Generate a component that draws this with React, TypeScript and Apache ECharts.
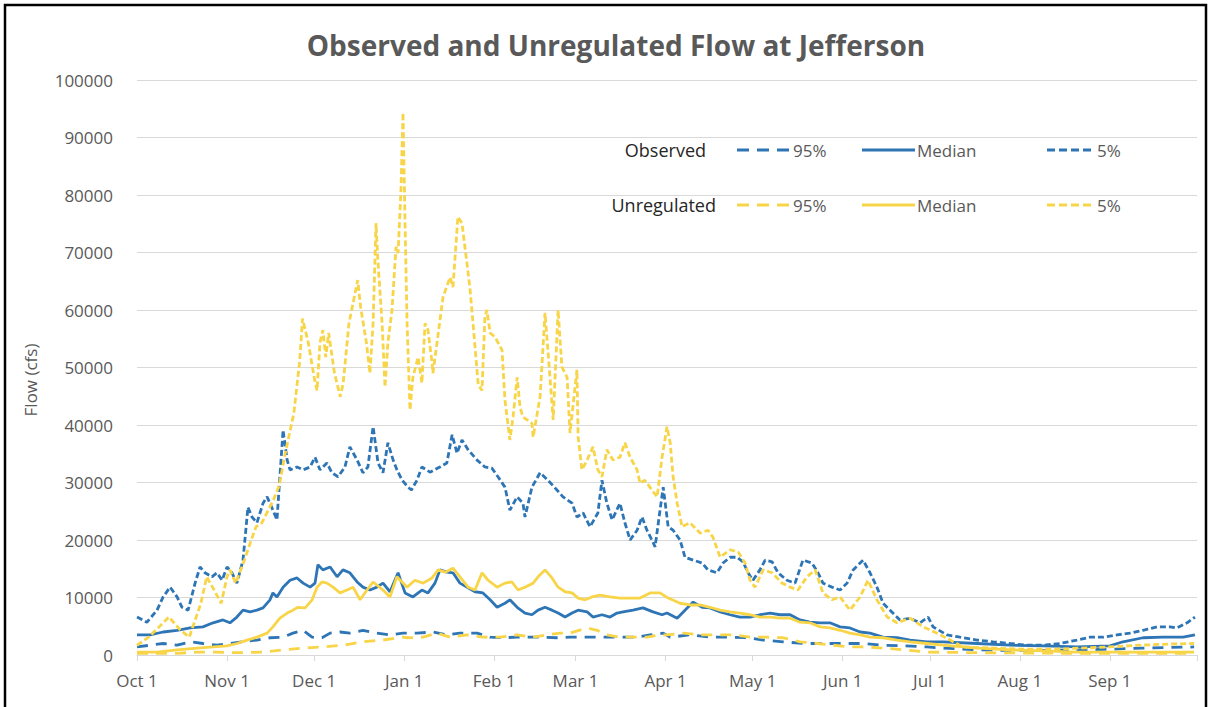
import React, { useEffect, useRef } from "react";
import * as echarts from "echarts";

// x axis: day index from Oct 1 (0) to Sep 30 (364)
const monthStartDays = [0, 31, 61, 92, 123, 151, 182, 212, 243, 273, 304, 335];
const monthLabels = ["Oct 1", "Nov 1", "Dec 1", "Jan 1", "Feb 1", "Mar 1", "Apr 1", "May 1", "Jun 1", "Jul 1", "Aug 1", "Sep 1"];
const yTicks = [0, 10000, 20000, 30000, 40000, 50000, 60000, 70000, 80000, 90000, 100000];

// Observed 5% exceedance (high)
const observed5: [number, number][] = [
  [0, 6600], [3.4, 5700], [6.9, 7800], [9, 10100], [11.4, 11800], [13.8, 10100], [15.5, 8300], [17.6, 7800],
  [20, 12500], [21.7, 15300], [23.4, 14300], [25.8, 13600], [27.5, 14300], [29.3, 13000], [31, 15300], [32.7, 14300],
  [34.4, 12500], [36.5, 16500], [38.2, 25700], [39.6, 24000], [41.3, 23000], [43.4, 26400], [44.8, 27500], [46.8, 25200],
  [48.2, 23500], [49.2, 31000], [50.3, 39100], [51.7, 33900], [52.7, 32200], [55.1, 32700], [57.2, 32200], [59.6, 32700],
  [61.3, 34400], [63, 32200], [65.4, 33400], [67.1, 31700], [69.2, 31000], [71.6, 32700], [73.3, 36200], [75.8, 33900],
  [77.8, 31700], [79.5, 32700], [81.3, 39700], [83, 33400], [84.7, 31700], [86.4, 36900], [88.2, 33900], [89.5, 32200],
  [91.3, 30400], [93.3, 29200], [94.5, 28700], [96.4, 30400], [98.1, 32700], [100.9, 31800], [104.3, 32700], [106.7, 33400],
  [108.5, 38300], [110.2, 35100], [111.9, 37400], [114, 35700], [117.1, 33900], [119.8, 32700], [122.2, 32500], [124.3, 31000],
  [126.7, 29200], [128.4, 25200], [130.9, 27500], [132.9, 26400], [133.6, 24000], [136, 29200], [138.8, 31700], [141.5, 30400],
  [144.6, 28700], [146.7, 27500], [149.8, 26400], [151.5, 24000], [153.6, 24700], [156, 22300], [158.7, 24700], [160.1, 30400],
  [161.8, 26400], [163.6, 23500], [166.3, 26400], [168, 23000], [169.8, 20000], [172.2, 21700], [173.9, 24000], [175.6, 21700],
  [177.3, 20000], [178.4, 18800], [180.1, 25200], [181.2, 29200], [182.9, 22300], [184.6, 21700], [187, 20000], [188.7, 17000],
  [191.5, 16500], [194.6, 16000], [196.6, 14800], [199.7, 14300], [201.8, 16000], [204.2, 17000], [206.6, 17000], [208.7, 16200],
  [210.4, 14300], [212.1, 13000], [214.5, 14800], [216.3, 16500], [218.7, 16200], [220.7, 14300], [223.8, 13000], [226.6, 12500],
  [229.3, 16500], [232.4, 16000], [234.5, 14300], [236.2, 12500], [239.3, 11800], [242.1, 11300], [244.5, 12500], [246.6, 14800],
  [250, 16500], [252.4, 14300], [254.8, 11800], [256.9, 9000], [259.3, 7800], [262.7, 6100], [266.2, 6400], [269.6, 5600],
  [272.4, 6600], [274.1, 4900], [278.9, 3500], [283.4, 3100], [289.3, 2600], [294.8, 2300], [300.6, 2000], [306.5, 1700],
  [312, 1700], [317.8, 2000], [323.7, 2600], [328.2, 3100], [332.6, 3100], [337.5, 3500], [341.9, 3800], [346.4, 4300],
  [351.2, 4900], [355.7, 4900], [358.1, 4700], [361.6, 5600], [364.3, 6600],
];

// Observed median
const observedMedian: [number, number][] = [
  [0, 3500], [4.5, 3500], [9, 4000], [13.8, 4300], [18.3, 4700], [22.7, 4900], [26.2, 5600], [29.6, 6100],
  [32, 5600], [34.4, 6600], [36.5, 7800], [38.9, 7500], [41.3, 7800], [43.4, 8200], [45.8, 9600], [46.8, 10800],
  [48.2, 10100], [50.3, 11800], [52.7, 13000], [55.1, 13400], [57.2, 12500], [59.6, 11800], [61.3, 12500], [62.3, 15700],
  [64, 14800], [66.5, 15300], [68.9, 13600], [70.9, 14800], [73.3, 14300], [75.8, 12700], [77.8, 11800], [80.2, 11300],
  [82.6, 11800], [84.7, 12500], [87.1, 11000], [89.9, 14300], [92.3, 10800], [95, 10100], [98.1, 11300], [100.2, 10800],
  [102.6, 12500], [104.3, 14800], [106.7, 14400], [108.8, 14300], [111.2, 12500], [114, 11700], [116.4, 11000], [119.1, 10800],
  [121.6, 9600], [124, 8300], [126.7, 9000], [128.4, 9600], [130.9, 8300], [133.6, 7300], [136, 7000], [138.1, 7800],
  [140.5, 8300], [142.9, 7800], [145, 7300], [147.4, 6600], [149.8, 7300], [151.9, 7800], [155, 7500], [157, 6600],
  [160.1, 7000], [162.9, 6600], [165.3, 7300], [167.4, 7500], [170.8, 7800], [174.2, 8200], [177.7, 7500], [180.8, 7000],
  [182.5, 7300], [186, 6400], [188.7, 7800], [191.5, 9200], [194.6, 8300], [197.3, 8200], [200.8, 7500], [204.2, 7000],
  [207.6, 6600], [211.1, 6600], [214.5, 7000], [218, 7300], [221.4, 7000], [224.9, 7000], [228.3, 6100], [231.7, 5700],
  [235.2, 5600], [238.6, 5600], [242.1, 4900], [245.5, 4700], [249, 4000], [252.4, 3800], [256.9, 3100], [261.7, 3000],
  [266.2, 2600], [272, 2300], [277.5, 2300], [289.3, 2000], [300.6, 1700], [312, 1600], [323.7, 1400], [335, 1600],
  [339.5, 2300], [346.4, 3000], [353.3, 3100], [360.2, 3100], [364.3, 3500],
];

// Observed 95% exceedance (low)
const observed95: [number, number][] = [
  [0, 1400], [4.5, 1700], [9, 2000], [13.8, 1700], [18.3, 2300], [22.7, 2000], [27.5, 1700], [32, 2000],
  [36.5, 2300], [41.3, 2600], [45.8, 3000], [50.3, 3100], [53.7, 3800], [57.2, 4300], [60.3, 3100], [63.7, 3000],
  [66.5, 3800], [69.9, 4000], [73.3, 3800], [77.8, 4300], [82.6, 3800], [87.1, 3500], [91.6, 3800], [96.4, 3800],
  [101.9, 4000], [106.7, 3500], [111.2, 3800], [117.1, 3800], [121.6, 3100], [126, 3000], [130.9, 3100], [135.3, 3100],
  [139.8, 3100], [144.6, 3000], [149.1, 3100], [153.6, 3100], [158.4, 3100], [162.9, 3100], [167.4, 3100], [172.2, 3100],
  [176.7, 3500], [181.2, 3800], [183.6, 3100], [190.4, 3500], [197.3, 3100], [204.2, 3100], [210.1, 3000], [215.6, 2600],
  [222.5, 2300], [229.3, 2000], [236.2, 2000], [243.1, 2000], [250, 2000], [256.9, 1700], [263.8, 1600], [272, 1400],
  [277.5, 1200], [289.3, 900], [300.6, 800], [312, 800], [323.7, 900], [335, 1000], [346, 1200], [355, 1300], [364, 1400],
];

// Unregulated 5% exceedance (high)
const unregulated5: [number, number][] = [
  [0, 1700], [4, 3100], [11, 6600], [15, 4300], [18, 3100], [22, 9000], [24, 13600], [26, 11800],
  [29, 9000], [31, 13600], [32, 14800], [34, 12500], [37, 16500], [39, 19500], [41, 22300], [43, 23000],
  [47, 27000], [49, 29500], [51, 35000], [54, 42000], [56, 51000], [57, 58500], [59, 54300], [61, 48300],
  [62, 46000], [63, 54300], [64, 56500], [65, 51800], [66, 56000], [68, 49000], [70, 44900], [71, 47300],
  [73, 57700], [76, 65200], [77, 60500], [79, 54300], [80.2, 49000], [81.3, 57700], [82.3, 75100], [83, 68200],
  [84.4, 57700], [85.4, 46600], [86.4, 54300], [87.8, 60000], [89.2, 71000], [89.9, 69900], [90.9, 80900], [91.6, 94300],
  [92.3, 75100], [93, 57700], [94, 42600], [95, 48300], [96.8, 51800], [98.1, 47300], [99.2, 57700], [100.2, 56500],
  [101.6, 50800], [101.9, 49000], [103.3, 54300], [105.4, 62300], [107.8, 65700], [108.8, 64000], [110.5, 76200], [111.9, 75100],
  [113.6, 68200], [114.7, 63500], [115.7, 57700], [117.5, 47000], [118.8, 46000], [119.8, 58800], [120.5, 60000], [121.6, 56000],
  [123.3, 55300], [125.7, 53000], [126.7, 44300], [128.4, 37400], [129.5, 41400], [130.9, 48300], [131.9, 43100], [132.9, 41400],
  [136, 40300], [136.4, 37900], [138.8, 44900], [140.5, 59500], [141.5, 53000], [143.3, 40900], [145, 60000], [146.3, 50100],
  [148.1, 48300], [149.1, 38600], [151.5, 49600], [151.9, 37900], [153.2, 32200], [155, 33900], [157, 36200], [158.7, 32200],
  [160.1, 31000], [161.8, 35700], [163.9, 33900], [166.3, 34400], [168, 36900], [169.8, 34400], [172.2, 32200], [173.2, 29900],
  [174.9, 30400], [177.3, 28700], [179.1, 27500], [180.8, 34400], [182.5, 39700], [183.6, 36900], [184.6, 31000], [186, 26400],
  [187.7, 22300], [190.4, 23000], [193.9, 21200], [196.6, 21700], [198.3, 20500], [200.8, 17000], [204.2, 18300], [207, 17900],
  [209.4, 16000], [211.1, 13000], [212.8, 11800], [215.6, 14800], [218.7, 14300], [222.1, 12500], [224.9, 11800], [227.6, 11300],
  [230.7, 13600], [233.5, 14800], [236.2, 10800], [239.3, 9600], [242.1, 10100], [245.5, 7800], [249, 10100], [251.7, 13000],
  [254.8, 9600], [258.3, 6600], [261.7, 5600], [266.2, 6400], [270.7, 4900], [275.5, 3800], [280, 2600], [284.4, 1400],
  [295, 1200], [305, 1000], [315, 1000], [325, 1200], [335, 1400], [345, 1700], [355, 1900], [364, 2000],
];

// Unregulated median
const unregulatedMedian: [number, number][] = [
  [0, 500], [6.9, 500], [13.8, 900], [20.7, 1200], [26.2, 1400], [31, 1600], [34.4, 2000], [37.9, 2600],
  [41.3, 3100], [44.8, 3800], [46.8, 4900], [49.2, 6400], [51.7, 7300], [53.7, 7800], [55.4, 8300], [57.9, 8200],
  [60.3, 9600], [62, 11800], [63.7, 12700], [65.4, 12500], [67.5, 11800], [69.9, 10800], [72.3, 11300], [74.4, 11800],
  [76.8, 9600], [79.2, 11300], [81.3, 12700], [84.7, 11300], [87.1, 10100], [89.5, 13600], [93, 11800], [95.7, 13000],
  [98.5, 12500], [101.6, 13400], [103.7, 14800], [106.1, 14400], [108.8, 15100], [111.2, 13600], [114, 11800], [116.4, 11300],
  [118.8, 14300], [120.9, 13000], [124, 11800], [126.7, 12500], [129.1, 12700], [131.2, 11300], [133.6, 11800], [136.4, 12500],
  [138.1, 13600], [140.5, 14800], [142.9, 13400], [145, 11800], [147.4, 11000], [149.8, 10800], [151.9, 9900], [154.3, 9600],
  [156.7, 10100], [159.4, 10400], [162.9, 10100], [166.3, 9900], [169.8, 9900], [173.2, 9900], [176.7, 10800], [180.1, 10800],
  [182.9, 9900], [184.3, 9600], [187, 9000], [190.4, 8700], [193.9, 8700], [197.3, 8300], [200.8, 7800], [204.2, 7500],
  [207.6, 7300], [211.1, 7000], [214.5, 6600], [218, 6600], [221.4, 6400], [224.9, 6400], [228.3, 5700], [231.7, 5600],
  [235.2, 4900], [238.6, 4700], [242.1, 4300], [245.5, 3800], [249, 3500], [252.4, 3100], [256.9, 3000], [261.7, 2600],
  [266.2, 2300], [272, 2000], [277.5, 1700], [289.3, 1200], [300.6, 900], [312, 700], [323.7, 500], [364, 500],
];

// Unregulated 95% exceedance (low)
const unregulated95: [number, number][] = [
  [0, 300], [6.9, 300], [13.8, 300], [20.7, 500], [27.5, 500], [32, 400], [36.5, 400], [43.4, 500],
  [50.3, 900], [57.2, 1200], [64, 1400], [70.9, 1700], [77.8, 2300], [84.7, 2600], [91.6, 3100], [93, 3000],
  [98.5, 3100], [103.3, 3800], [107.8, 3100], [113.6, 3500], [119.1, 3100], [125, 3100], [130.9, 3500], [136.4, 3100],
  [141.2, 3500], [145.7, 3800], [149.1, 3800], [155, 4700], [158.4, 4300], [161.8, 3500], [166.3, 3100], [170.8, 3100],
  [175.6, 3100], [180.1, 3500], [182.5, 3500], [188, 3800], [193.9, 3500], [199.7, 3500], [205.2, 3500], [211.1, 3100],
  [216.9, 3100], [222.5, 3000], [228.3, 2300], [234.2, 2000], [239.7, 1700], [245.5, 1400], [251.4, 1400], [256.9, 1200],
  [263.8, 900], [272, 500], [290, 400], [320, 300], [364, 300],
];

const BLUE = "#2E75B6";
const YELLOW = "#F8D548";
const FONT = '"Open Sans", sans-serif';
const LONG_DASH = [11, 8];
const SHORT_DASH = [6, 3];

export default function App() {
  const ref = useRef<HTMLDivElement>(null);

  useEffect(() => {
    document.body.style.margin = "0";
    const chart = echarts.init(ref.current!, null, { renderer: "svg" });

    const mkSeries = (name: string, data: [number, number][], color: string, dash: any) => ({
      name,
      type: "line",
      data,
      showSymbol: false,
      symbol: "none",
      silent: true,
      lineStyle: { color, width: 2.8, type: dash },
    });

    const txt = (text: string, x: number, y: number, fill: string, align: string, size: number) => ({
      type: "text",
      style: { text, x, y, fill, font: `${size}px ${FONT}`, align, verticalAlign: "middle", textAlign: align, textVerticalAlign: "middle" },
    });

    const legendRow = (label: string, labelRight: number, y: number, color: string) => [
      txt(label, labelRight, y, "#262626", "right", 18),
      { type: "line", shape: { x1: 737, y1: y, x2: 791, y2: y }, style: { stroke: color, lineWidth: 2.8, lineDash: [12, 8] } },
      txt("95%", 793, y, "#595959", "left", 17),
      { type: "line", shape: { x1: 862, y1: y, x2: 915, y2: y }, style: { stroke: color, lineWidth: 2.8 } },
      txt("Median", 917, y, "#595959", "left", 17),
      { type: "line", shape: { x1: 1047, y1: y, x2: 1095, y2: y }, style: { stroke: color, lineWidth: 2.8, lineDash: [8, 4] } },
      txt("5%", 1097, y, "#595959", "left", 17),
    ];

    chart.setOption({
      animation: false,
      backgroundColor: "#ffffff",
      title: {
        text: "Observed and Unregulated Flow at Jefferson",
        left: 611,
        top: 26,
        textAlign: "center",
        textStyle: { fontFamily: FONT, fontSize: 28, fontWeight: "bold", color: "#595959" },
      },
      grid: { left: 137, right: 17, top: 80, bottom: 52 },
      xAxis: {
        type: "value",
        min: 0,
        max: 365,
        axisLine: { show: true, lineStyle: { color: "#D9D9D9", width: 1 } },
        axisTick: { show: true, length: 6, lineStyle: { color: "#D9D9D9" }, customValues: [...monthStartDays, 365] },
        splitLine: { show: false },
        axisLabel: {
          customValues: monthStartDays,
          color: "#595959",
          fontFamily: FONT,
          fontSize: 17,
          margin: 17,
          formatter: (v: number) => {
            const i = monthStartDays.indexOf(Math.round(v));
            return i >= 0 ? monthLabels[i] : "";
          },
        },
      },
      yAxis: {
        type: "value",
        min: yTicks[0],
        max: yTicks[yTicks.length - 1],
        interval: 10000,
        axisLine: { show: false },
        axisTick: { show: false },
        splitLine: { lineStyle: { color: "#D9D9D9", width: 1 } },
        axisLabel: { color: "#595959", fontFamily: FONT, fontSize: 17, margin: 24, formatter: (v: number) => String(v) },
      },
      graphic: [
        {
          type: "rect",
          shape: { x: 5, y: 5, width: 1201, height: 740 },
          style: { fill: "none", stroke: "#000000", lineWidth: 2.5 },
          silent: true,
        },
        {
          type: "text",
          x: 30,
          y: 380,
          rotation: Math.PI / 2,
          style: { text: "Flow (cfs)", x: 0, y: 0, fill: "#595959", font: `17px ${FONT}`, align: "center", verticalAlign: "middle", textAlign: "center", textVerticalAlign: "middle" },
        },
        ...legendRow("Observed", 706, 150, BLUE),
        ...legendRow("Unregulated", 716, 205, YELLOW),
      ],
      series: [
        mkSeries("Observed 95%", observed95, BLUE, LONG_DASH),
        mkSeries("Observed Median", observedMedian, BLUE, "solid"),
        mkSeries("Observed 5%", observed5, BLUE, SHORT_DASH),
        mkSeries("Unregulated 95%", unregulated95, YELLOW, LONG_DASH),
        mkSeries("Unregulated Median", unregulatedMedian, YELLOW, "solid"),
        mkSeries("Unregulated 5%", unregulated5, YELLOW, SHORT_DASH),
      ],
    });

    return () => chart.dispose();
  }, []);

  return <div ref={ref} style={{ width: 1214, height: 707 }} />;
}
